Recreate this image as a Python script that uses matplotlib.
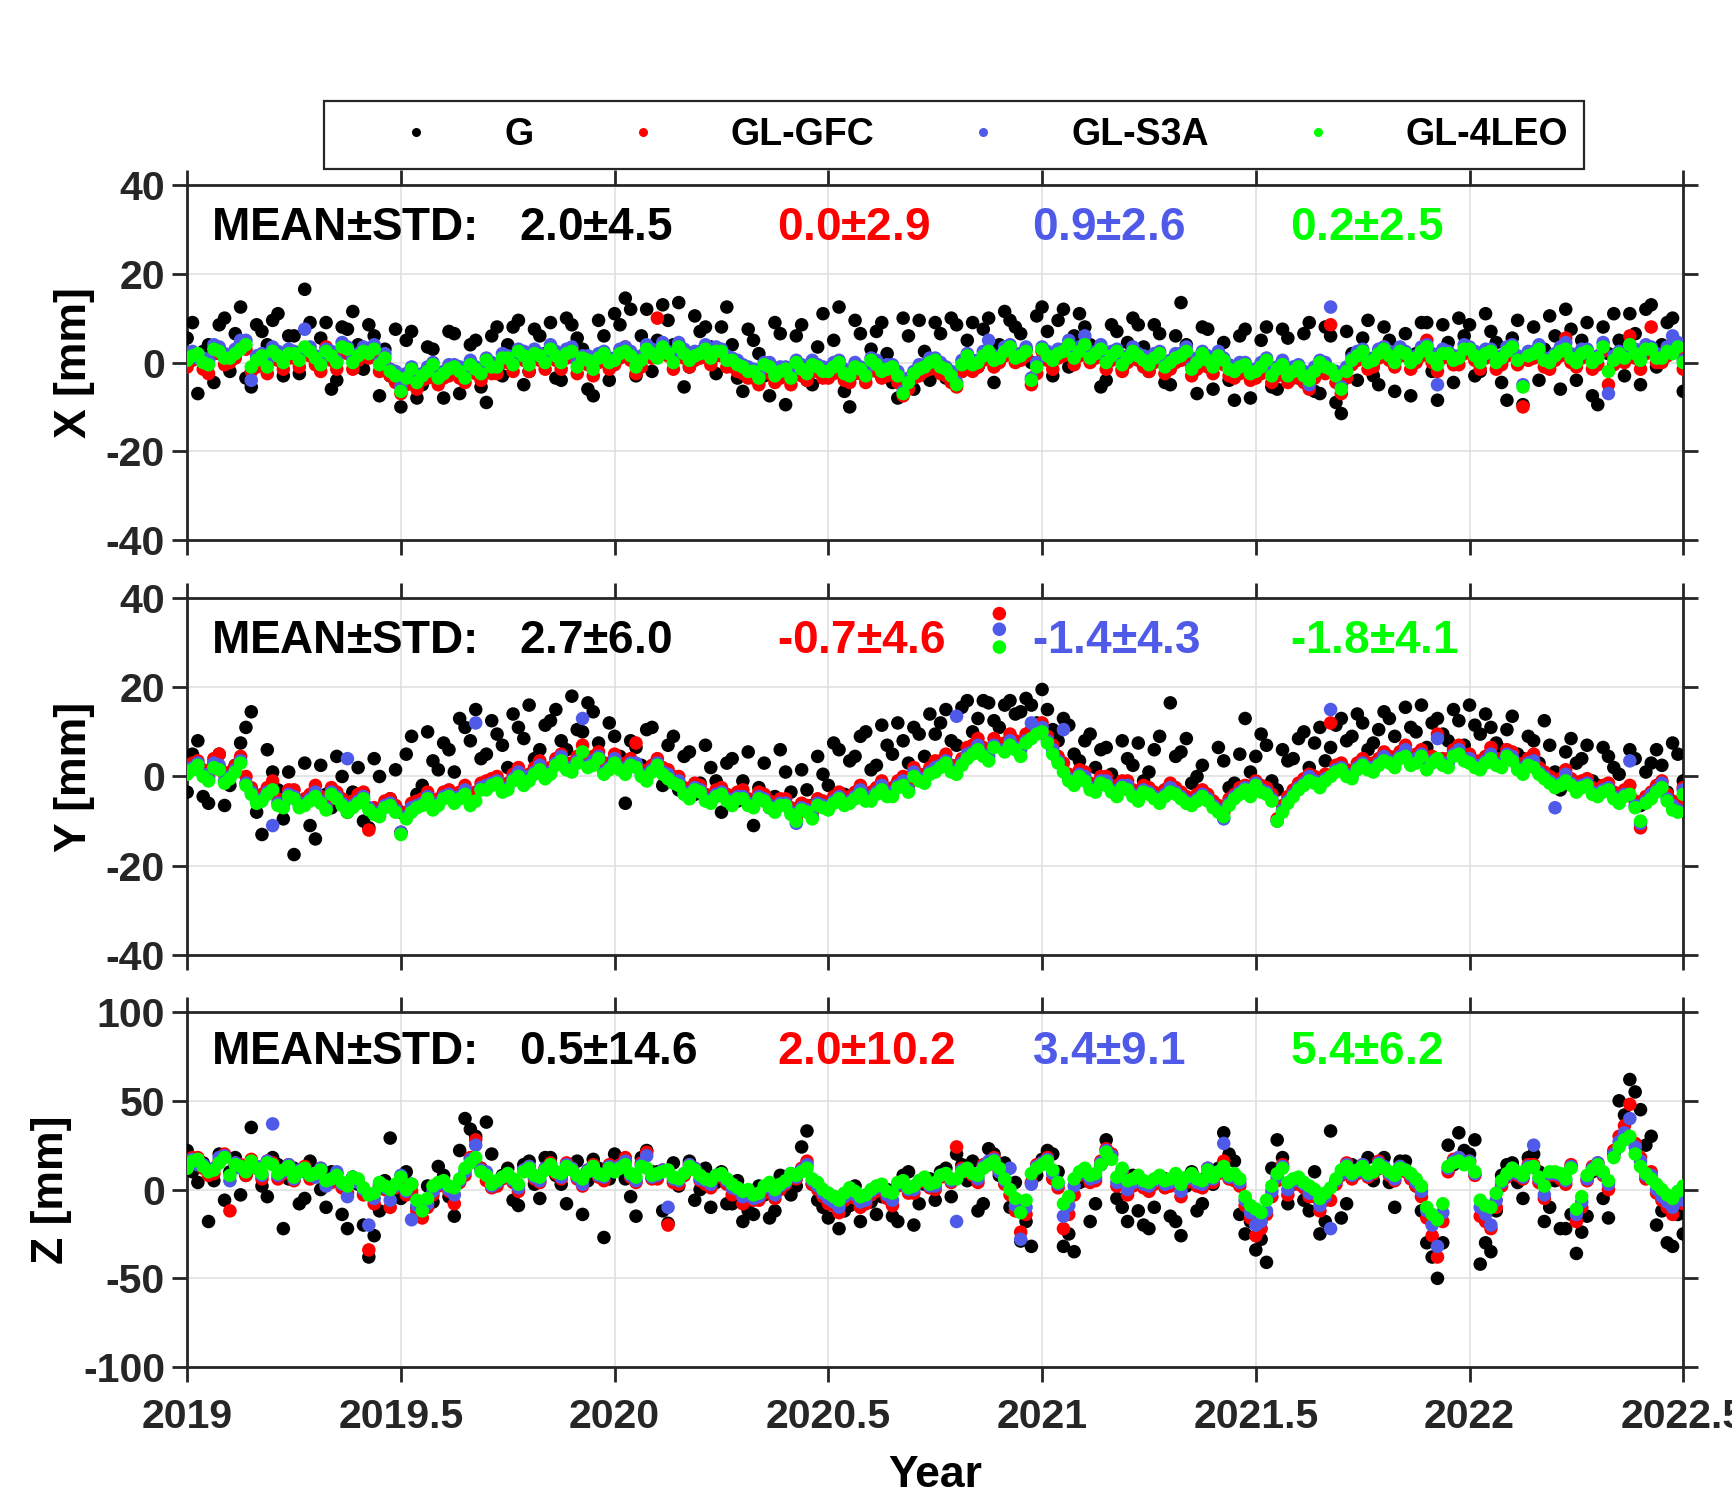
import numpy as np
import matplotlib
matplotlib.use("Agg")
import matplotlib.pyplot as plt
from matplotlib.lines import Line2D

plt.rcParams['font.family'] = ['Liberation Sans', 'DejaVu Sans']
plt.rcParams['font.weight'] = 'bold'
plt.rcParams['axes.unicode_minus'] = False
plt.rcParams['mathtext.fontset'] = 'custom'
plt.rcParams['mathtext.rm'] = 'Liberation Sans'

# ---------------- data ----------------
# main samples every 0.025 yr, extra samples half-way between them
years = 2019 + 0.025 * np.arange(141)
years_b = 2019.0125 + 0.025 * np.arange(140)

series_names = ["G", "GL-GFC", "GL-S3A", "GL-4LEO"]
series_colors = ["#000000", "#ff0000", "#4f5ae8", "#00ff00"]

# ---- X ----
G_X = [5.5, -7.0, 4.0, 8.5, -2.0, 12.5, -5.5, 7.0, 9.5, -3.0,
       6.0, 16.5, 1.0, 9.0, -4.0, 7.5, 4.0, 8.5, -7.5, -3.0,
       -10.0, 7.0, -5.0, 3.0, -8.0, 6.5, -2.0, 5.0, -9.0, 8.0,
       4.0, 9.5, -2.0, 6.0, 9.0, -4.0, 8.5, 3.0, -7.5, 6.0,
       11.0, 14.5, -3.0, 12.0, 5.0, 9.5, 13.5, -1.0, 7.0, 3.5,
       8.0, 4.0, -6.5, 5.0, -3.0, 9.0, -9.5, 6.0, -4.0, 3.5,
       -2.0, 12.5, -10.0, 6.5, 3.0, 9.0, -4.5, 10.0, -6.0, 2.5,
       9.0, -3.5, 8.5, 5.0, -1.0, 10.0, 4.0, 9.5, 6.5, 0.0,
       12.5, -3.0, 12.0, 6.0, 8.0, 2.5, -4.0, 7.0, 4.5, 8.5,
       -2.0, 6.5, -5.0, 13.5, -1.0, 8.0, -6.0, 4.5, -8.5, 7.5,
       -2.5, 8.0, -6.0, 5.5, -3.5, 9.0, -7.0, 6.0, -11.5, 2.0,
       5.5, -3.0, 8.0, -6.5, 6.5, 2.0, 9.0, -8.5, 4.5, 10.0,
       8.5, -2.0, 7.0, -4.5, 5.5, -9.5, 8.0, 3.0, 6.0, 12.0,
       -4.0, 9.0, -9.5, 2.0, 5.0, 11.0, -5.0, 13.0, 4.0, 10.0, -6.5]
G_X_b = [9.0, 2.5, -4.5, 10.0, 6.5, -3.5, 8.5, 4.0, 11.0, 6.0,
         -2.5, 9.0, 5.5, -6.0, 8.0, 11.5, -1.5, 6.0, 3.0, 7.5,
         5.0, -8.0, 3.5, -4.5, 7.0, -7.0, 4.0, -5.5, 6.0, -3.0,
         8.0, -5.0, 7.5, 2.0, -3.5, 10.0, 5.5, -6.0, 9.5, -4.0,
         8.5, 12.0, 6.0, -2.0, 13.0, 4.0, -5.5, 10.5, 8.0, -2.5,
         12.5, -3.5, 7.5, 2.0, -7.5, 6.5, -2.0, 8.5, -5.0, 11.0,
         5.0, -6.5, 9.5, -3.0, 7.0, 2.0, -8.0, 6.0, 9.5, -4.0,
         6.5, 10.0, -2.0, 9.0, 7.5, -4.5, 11.5, 8.0, 3.0, 10.5,
         7.0, 9.5, -1.0, 11.0, 4.0, -5.5, 8.5, -1.5, 10.0, 3.5,
         8.5, -4.5, 6.0, 4.0, -7.0, 7.5, 2.0, -4.0, 6.0, -8.0,
         5.0, -5.5, 7.5, -2.0, 6.5, -6.5, 8.0, -9.0, 7.0, -4.0,
         9.5, -5.0, 5.0, 3.0, -7.5, 9.0, -2.0, 8.5, -4.5, 6.0,
         -3.0, 11.0, 4.5, -8.5, 9.5, 2.0, -4.0, 10.5, -6.0, 7.5,
         5.0, -7.5, 8.0, 11.0, -3.0, 6.5, 12.0, -1.0, 9.0, 3.0]
GFC_X = [-1.0, 1.0, -2.5, 2.0, 0.0, 4.5, -2.0, 0.5, 3.0, -1.5,
         1.0, 2.5, -0.5, 3.5, -1.5, 2.0, 0.5, 1.0, -2.0, -3.0,
         -7.0, -3.0, -4.0, -1.5, -3.5, -2.0, -4.5, -2.5, -0.5, -2.5,
         0.0, 1.5, -2.0, 0.5, 2.5, -1.5, 3.0, 0.0, -3.0, 1.0,
         -0.5, 3.5, -2.5, 3.0, 10.0, 1.5, 4.0, -1.0, 1.0, -0.5,
         1.5, -1.0, -2.5, -3.5, -1.5, -4.5, -2.5, -1.0, -4.0, -2.0,
         -3.5, -1.0, -4.5, -2.5, -0.5, -3.5, -2.0, -7.5, -3.5, -2.0,
         -0.5, -3.0, -5.5, 0.5, -1.0, 2.0, 0.0, 3.0, 0.5, -5.0,
         2.5, -1.5, 1.5, -0.5, 4.0, 1.0, -1.5, 2.0, 0.0, 0.5,
         -2.0, 1.5, -1.5, 0.5, -3.0, 1.0, -2.5, -0.5, -3.5, -2.0,
         -3.5, -0.5, -3.0, -4.5, -2.0, -6.0, -1.0, 8.5, -7.0, -0.5,
         2.0, -1.0, 3.5, -1.0, 1.5, 0.0, 5.0, -2.0, 1.5, -0.5,
         2.5, -1.5, 2.0, -0.5, 3.0, -10.0, 1.0, -1.0, 0.5, 5.5,
         -1.0, 2.0, -0.5, -5.0, 1.5, 6.0, -1.5, 8.0, 0.0, 4.0, -1.5]
GFC_X_b = [0.5, -1.5, 2.0, -0.5, 1.0, 3.0, -1.0, -2.5, 0.5, 1.0,
           -1.0, 1.5, -2.0, 0.5, 2.5, -1.5, 1.5, 2.0, -0.5, -4.5,
           -5.0, -6.0, -3.5, -5.0, -3.0, -3.5, -2.0, -4.0, -2.5, 0.0,
           -2.0, 0.5, 1.0, -1.5, 0.5, 1.0, -2.5, -0.5, 0.0, -1.5,
           1.0, 0.5, -1.0, 1.0, 2.5, -1.5, 1.0, 0.5, 2.0, 1.5,
           -1.0, -2.0, -3.5, -5.0, -2.5, -3.5, -5.0, -3.0, -2.0, -3.5,
           -2.5, -4.0, -2.5, -4.5, -2.0, -3.0, -4.5, -6.0, -3.0, -1.5,
           -2.5, -4.5, -2.0, -2.0, 0.5, -1.0, 1.5, 0.0, 1.5, -2.5,
           0.5, 1.0, 3.0, 1.5, 0.0, 2.0, 0.5, -2.0, 1.5, -1.0,
           0.0, -2.5, 0.0, 1.5, -1.5, -1.0, 0.5, -3.0, -2.5, -4.0,
           -2.5, -4.5, -2.0, -3.5, -4.5, -3.5, -2.5, -4.5, -3.5, 0.5,
           -1.5, 1.0, 0.5, 1.5, -1.5, 1.5, 0.0, 1.0, -0.5, 2.0,
           0.5, 1.0, -1.5, 1.5, -0.5, 0.5, 2.0, -1.5, 1.5, 0.0,
           1.0, -1.5, 2.5, -0.5, 0.0, 1.0, 2.0, 0.0, 1.5, 2.5]
S3A_X = [2.0, 1.0, 0.5, 3.5, 1.5, 5.0, -4.0, 2.0, 3.5, 1.0,
         2.5, 7.5, 1.5, 3.0, 0.5, 3.5, 2.0, 2.5, 0.0, -1.5,
         -5.5, -1.0, -2.5, 0.0, -2.0, -0.5, -3.0, -1.0, 1.0, -0.5,
         1.5, 3.0, 0.0, 2.0, 4.0, 0.5, 3.5, 1.5, -1.0, 2.5,
         1.0, 3.5, -0.5, 4.0, 1.5, 2.5, 4.5, 1.0, 2.5, 1.5,
         3.0, 1.0, -0.5, -1.5, 0.0, -2.5, -1.0, 0.5, -2.0, -0.5,
         -1.5, 0.5, -2.5, -1.0, 1.0, -1.5, -0.5, -6.5, -2.0, -0.5,
         1.0, -1.0, -4.5, 2.0, 0.5, 5.0, 1.5, 4.0, 2.0, -3.5,
         3.5, 1.0, 3.0, 1.5, 6.0, 2.5, 0.5, 3.0, 1.5, 2.0,
         0.0, 2.5, 0.5, 2.0, -1.0, 2.5, -0.5, 1.0, -1.5, 0.0,
         -1.5, 1.0, -1.0, -2.5, -0.5, -5.0, 0.5, 12.5, -5.5, 1.0,
         3.0, 1.0, 3.5, 0.5, 2.5, 1.5, 4.0, -5.0, 2.5, 1.5,
         3.5, 0.5, 3.0, 1.5, 4.0, -5.0, 2.5, 1.0, 2.0, 4.5,
         0.5, 3.0, 1.5, -7.0, 2.5, 4.0, 1.0, 3.5, 1.5, 6.0, 0.5]
S3A_X_b = [2.5, 1.0, 4.0, 2.0, 3.0, 5.0, 1.5, 0.0, 2.5, 3.0,
           1.5, 3.5, 0.5, 2.5, 4.5, 1.0, 3.5, 4.0, 2.0, -2.0,
           -2.5, -3.5, -1.0, -2.5, -0.5, -1.0, 0.5, -1.5, 0.0, 2.0,
           0.5, 2.5, 3.0, 1.0, 2.5, 3.0, 0.0, 1.5, 2.0, 1.0,
           3.0, 2.5, 1.5, 3.0, 4.5, 1.0, 3.0, 2.5, 4.0, 3.5,
           1.5, 0.5, -1.0, -2.5, 0.0, -1.0, -2.5, -0.5, 0.5, -1.0,
           0.0, -1.5, 0.0, -2.0, 0.5, -0.5, -2.0, -3.5, -0.5, 1.0,
           0.0, -2.0, 0.5, 0.5, 2.5, 1.5, 3.5, 2.0, 3.5, 0.0,
           2.5, 3.0, 5.0, 3.5, 2.0, 4.0, 2.5, 0.5, 3.5, 1.5,
           2.0, 0.0, 2.0, 3.5, 1.0, 1.5, 2.5, -0.5, 0.0, -1.5,
           0.0, -2.0, 0.5, -1.0, -2.0, -1.0, 0.0, -2.0, -1.0, 2.5,
           1.0, 3.0, 2.5, 3.5, 1.0, 3.5, 2.0, 3.0, 1.5, 4.0,
           2.5, 3.0, 1.0, 3.5, 1.5, 2.5, 4.0, 1.0, 3.5, 2.0,
           3.0, 1.0, 4.5, 1.5, 2.0, 3.0, 4.0, 2.0, 3.5, 4.5]
LEO_X = [0.5, 2.0, -0.5, 2.5, 1.0, 3.0, -1.0, 1.5, 2.5, 0.0,
         2.0, 3.5, 1.0, 2.5, 0.0, 3.0, 1.5, 2.0, -0.5, -2.0,
         -6.5, -1.5, -3.0, -0.5, -2.5, -1.0, -3.5, -1.5, 0.5, -1.0,
         1.0, 2.5, -0.5, 1.5, 3.0, 0.0, 2.5, 1.0, -1.5, 2.0,
         0.5, 2.5, -1.0, 3.0, 1.0, 2.0, 3.5, 0.5, 2.0, 1.0,
         2.5, 0.5, -1.0, -2.0, -0.5, -3.0, -1.5, 0.0, -2.5, -1.0,
         -2.0, 0.0, -3.0, -1.5, 0.5, -2.0, -1.0, -7.0, -2.5, -1.0,
         0.5, -1.5, -5.0, 1.5, 0.0, 2.5, 1.0, 3.5, 1.5, -4.0,
         3.0, 0.5, 2.5, 1.0, 4.0, 2.0, 0.0, 2.5, 1.0, 1.5,
         -0.5, 2.0, 0.0, 1.5, -1.5, 2.0, -1.0, 0.5, -2.0, -0.5,
         -2.0, 0.5, -1.5, -3.0, -1.0, -4.0, 0.0, -1.5, -6.0, 0.5,
         2.5, 0.5, 3.0, 0.0, 2.0, 1.0, 3.5, -0.5, 2.0, 1.0,
         3.0, 0.0, 2.5, 1.0, 3.5, -5.5, 2.0, 0.5, 1.5, 3.0,
         0.0, 2.5, 1.0, -2.0, 2.0, 4.0, 0.5, 3.0, 1.0, 2.0, 0.0]
LEO_X_b = [1.5, 0.0, 3.0, 1.0, 2.0, 4.0, 0.5, -1.0, 1.5, 2.0,
           0.5, 2.5, -0.5, 1.5, 3.5, 0.0, 2.5, 3.0, 1.0, -3.0,
           -3.5, -4.5, -2.0, -3.5, -1.5, -2.0, -0.5, -2.5, -1.0, 1.0,
           -0.5, 1.5, 2.0, 0.0, 1.5, 2.0, -1.0, 0.5, 1.0, 0.0,
           2.0, 1.5, 0.5, 2.0, 3.5, 0.0, 2.0, 1.5, 3.0, 2.5,
           0.5, -0.5, -2.0, -3.5, -1.0, -2.0, -3.5, -1.5, -0.5, -2.0,
           -1.0, -2.5, -1.0, -3.0, -0.5, -1.5, -3.0, -4.5, -1.5, 0.0,
           -1.0, -3.0, -0.5, -0.5, 1.5, 0.5, 2.5, 1.0, 2.5, -1.0,
           1.5, 2.0, 4.0, 2.5, 1.0, 3.0, 1.5, -0.5, 2.5, 0.5,
           1.0, -1.0, 1.0, 2.5, 0.0, 0.5, 1.5, -1.5, -1.0, -2.5,
           -1.0, -3.0, -0.5, -2.0, -3.0, -2.0, -1.0, -3.0, -2.0, 1.5,
           0.0, 2.0, 1.5, 2.5, 0.0, 2.5, 1.0, 2.0, 0.5, 3.0,
           1.5, 2.0, 0.0, 2.5, 0.5, 1.5, 3.0, 0.0, 2.5, 1.0,
           2.0, 0.0, 3.5, 0.5, 1.0, 2.0, 3.0, 1.0, 2.5, 3.5]

# ---- Y ----
G_Y = [-3.5, 8.0, -6.0, 5.0, -2.0, 7.5, 14.5, -13.0, 1.0, -9.5,
       -17.5, 3.0, -14.0, -4.0, 4.5, -8.0, 2.0, -11.5, 0.0, -5.0,
       -8.0, 9.0, -2.0, 3.5, 7.5, 1.0, 11.0, 15.0, 5.0, 9.5,
       2.0, 11.0, 16.0, 6.0, 12.5, 8.0, 18.0, 10.0, 14.5, 3.0,
       9.0, -6.0, 6.5, 10.5, 2.0, 7.0, -3.0, 5.5, -1.5, 2.0,
       -8.0, 4.0, -1.0, -11.0, 3.0, -4.5, 1.0, -9.0, -3.0, 4.5,
       -2.0, 6.0, 3.5, 9.0, 1.5, 11.5, 5.0, 8.0, 11.0, 4.5,
       9.5, 15.0, 7.0, 17.0, 13.0, 16.5, 11.0, 17.0, 14.5, 16.0,
       19.5, 10.5, 13.0, 5.0, 8.0, 2.0, 6.5, -3.5, 4.0, 7.5,
       1.0, 9.0, 16.5, 5.5, -1.5, 2.5, -6.0, 3.5, -1.5, 13.0,
       4.5, 7.0, -3.0, 3.5, 8.5, 2.0, 11.0, 6.5, 13.0, 9.0,
       12.0, 7.5, 14.5, 9.0, 15.5, 10.0, 6.5, 13.0, 8.0, 12.5,
       16.0, 9.5, 11.0, 6.0, 13.5, 4.0, 8.0, 12.5, 1.0, 5.5,
       3.0, 7.0, -2.0, 4.5, 0.5, 6.0, -6.5, 3.0, 2.5, 7.5, -1.0]
G_Y_b = [5.0, -4.5, 3.0, -6.5, 2.5, 11.0, -8.0, 6.0, -3.0, 1.0,
         -6.0, -11.0, 2.5, -7.0, 0.0, -3.5, -10.0, 4.0, -6.5, 1.5,
         5.0, -4.0, 10.0, 1.5, 6.0, 13.0, 8.0, 4.0, 12.5, 7.0,
         14.0, 8.5, 4.0, 11.5, 15.0, 6.0, 10.5, 16.5, 7.5, 12.0,
         4.5, 8.0, 2.5, 11.0, -2.0, 9.0, 4.5, -4.0, 7.0, -1.0,
         3.0, -5.5, 5.5, -2.5, -7.0, 6.0, -3.5, 1.5, -6.5, 0.5,
         7.5, -4.0, 4.5, 10.0, 2.5, 7.0, 12.0, 3.0, 9.5, 14.0,
         12.0, 8.0, 15.5, 10.0, 17.0, 12.5, 16.0, 14.0, 17.5, 12.0,
         15.0, 8.0, 11.5, 3.5, 9.5, 6.0, 0.5, 8.0, 2.5, -1.0,
         6.0, -3.0, 4.5, 8.5, 0.0, -5.0, 6.5, -2.5, 5.0, 1.0,
         9.5, -1.0, 6.0, 4.0, 10.0, 7.5, 3.5, 11.5, 8.0, 14.0,
         6.0, 10.5, 13.0, 5.5, 11.0, 16.0, 12.0, 9.5, 15.0, 7.0,
         11.5, 14.0, 7.5, 10.5, 5.0, 9.0, 3.0, 7.0, -3.0, 8.5,
         4.0, -1.0, 6.5, 2.0, -4.0, 4.0, 1.0, 6.0, -3.5, 5.0]
GFC_Y = [2.0, 3.5, 0.0, 5.0, 1.0, 4.5, -2.5, -4.0, -1.0, -5.5,
         -3.0, -5.0, -2.0, -6.5, -3.5, -6.0, -4.0, -12.0, -7.5, -5.0,
         -12.5, -6.0, -5.0, -6.0, -3.5, -4.0, -2.0, -3.5, -1.0, 0.0,
         -1.5, 2.0, 0.5, 3.5, 2.0, 5.0, 3.0, 7.0, 4.5, 2.0,
         5.0, 2.5, 7.5, 0.5, 4.0, 1.5, 0.0, -3.5, -2.0, -4.5,
         -2.5, -5.0, -3.0, -5.5, -4.0, -6.5, -5.0, -9.5, -6.5, -5.0,
         -6.0, -3.5, -4.5, -2.0, -3.5, -1.0, -2.5, 0.0, 2.0, 0.5,
         3.5, 5.0, 2.5, 6.5, 8.5, 6.0, 36.5, 9.5, 7.5, 10.5,
         12.0, 7.0, 3.0, -0.5, 1.0, -2.0, 0.0, -3.0, -1.0, -4.0,
         -2.5, -4.5, -1.5, -3.5, -5.0, -3.0, -5.5, -8.0, -4.0, -2.0,
         -1.0, -2.5, -9.5, -4.5, -1.5, 0.5, -1.0, 12.0, 3.0, 1.0,
         4.0, 3.0, 5.5, 4.0, 7.0, 5.0, 3.0, 9.5, 4.0, 7.0,
         5.0, 3.5, 6.5, 4.0, 5.5, 2.5, 5.0, 1.0, -1.0, 1.5,
         -1.5, -0.5, -3.0, -1.5, -4.5, -2.0, -11.5, -3.5, -1.0, -5.5, -2.5]
GFC_Y_b = [3.0, 1.5, 4.0, 0.5, 2.5, 0.0, -4.5, -2.5, -5.0, -3.0,
           -5.5, -4.0, -4.5, -2.5, -5.0, -5.5, -3.5, -7.0, -5.5, -6.5,
           -8.0, -5.5, -3.5, -5.0, -3.0, -3.5, -5.0, -1.5, -0.5, -2.0,
           0.5, -0.5, 2.0, 1.0, 4.0, 3.0, 4.5, 3.5, 5.5, 3.0,
           3.0, 4.0, 1.5, 2.5, 2.0, 0.0, -2.5, -1.5, -4.0, -3.0,
           -4.0, -3.5, -5.0, -3.5, -5.5, -5.0, -7.0, -6.0, -8.0, -5.5,
           -4.5, -5.0, -3.5, -4.0, -2.5, -3.0, -1.0, -2.0, 0.5, 2.0,
           3.5, 2.5, 4.0, 7.0, 6.5, 8.5, 7.5, 8.0, 9.5, 11.5,
           9.0, 4.5, 0.5, 1.5, -1.5, 0.0, -2.0, -1.0, -3.0, -2.0,
           -3.5, -3.0, -2.5, -4.5, -4.0, -4.0, -6.5, -5.0, -2.5, -3.0,
           -2.0, -4.0, -6.5, -3.0, -0.5, 0.0, 0.5, 2.5, 1.5, 3.0,
           3.0, 4.0, 4.5, 5.5, 4.0, 6.0, 4.5, 4.0, 6.0, 5.0,
           3.5, 4.5, 4.0, 6.0, 3.0, 4.0, 2.0, 0.0, -0.5, -0.5,
           -1.0, -2.5, -2.0, -3.5, -3.0, -5.5, -4.5, -2.0, -4.0, -6.5]
S3A_Y = [1.0, 3.0, -0.5, 2.5, 0.0, 3.5, -3.5, -5.0, -11.0, -6.5,
         -4.5, -6.0, -3.5, -7.0, -4.5, 4.0, -5.5, -7.0, -8.5, -6.0,
         -12.5, -7.0, -6.0, -7.0, -4.5, -5.0, -3.0, 12.0, -2.0, -1.0,
         -2.5, 1.0, 0.0, 2.5, 1.0, 4.5, 2.0, 13.0, 3.5, 1.0,
         4.0, 1.5, 3.0, -0.5, 3.0, 0.5, -1.0, -4.5, -3.0, -5.5,
         -3.5, -6.0, -4.5, -6.5, -5.0, -7.5, -6.0, -10.5, -7.5, -6.0,
         -7.0, -4.5, -5.5, -3.0, -4.5, -2.0, -3.5, -1.0, 1.0, -0.5,
         2.0, 3.5, 13.5, 5.0, 7.0, 4.5, 33.0, 8.0, 6.0, 12.0,
         11.0, 6.0, 10.5, -1.5, 0.0, -3.0, -1.0, -4.0, -2.0, -5.0,
         -3.5, -5.5, -2.5, -4.5, -6.0, -4.0, -6.5, -9.5, -4.5, -2.5,
         -1.5, -3.5, -10.0, -5.5, -2.5, 0.0, -2.0, 15.0, 2.0, 0.0,
         3.0, 2.0, 4.5, 3.0, 6.0, 4.0, 2.5, 8.5, 3.0, 6.0,
         4.0, 2.5, 5.0, 3.0, 4.5, 1.5, 3.5, 0.0, -7.0, 0.5,
         -2.5, -1.5, -4.0, -2.5, -5.0, 3.5, -10.5, -4.0, -1.5, -6.5, -3.0]
S3A_Y_b = [2.0, 0.5, 3.0, -1.0, 1.5, -1.5, -5.5, -3.5, -6.0, -4.0,
           -6.5, -5.0, -5.5, -3.5, -6.0, -6.5, -4.5, -8.0, -6.5, -7.5,
           -9.0, -6.5, -4.5, -6.0, -4.0, -4.5, -6.0, -2.5, -1.5, -3.0,
           -0.5, -1.5, 1.0, 0.0, 3.0, 2.0, 3.5, 2.5, 4.5, 2.0,
           2.0, 3.0, 0.5, 1.5, 1.0, -1.0, -3.5, -2.5, -5.0, -4.0,
           -5.0, -4.5, -6.0, -4.5, -6.5, -6.0, -8.0, -7.0, -9.0, -6.5,
           -5.5, -6.0, -4.5, -5.0, -3.5, -4.0, -2.0, -3.0, -0.5, 1.0,
           2.5, 1.5, 3.0, 5.5, 5.0, 7.0, 6.0, 6.5, 8.0, 10.0,
           8.0, 3.5, -0.5, 0.5, -2.5, -1.0, -3.0, -2.0, -4.0, -3.0,
           -4.5, -4.0, -3.5, -5.5, -5.0, -5.0, -7.5, -6.0, -3.5, -4.0,
           -3.0, -5.0, -7.5, -4.0, -1.5, -1.0, -0.5, 1.5, 0.5, 2.0,
           2.0, 3.0, 3.5, 4.5, 3.0, 5.0, 3.5, 3.0, 5.0, 4.0,
           2.5, 3.5, 3.0, 5.0, 2.0, 3.0, 1.0, -1.0, -1.5, -1.5,
           -2.0, -3.5, -3.0, -4.5, -4.0, -6.5, -5.5, -3.0, -5.0, -7.5]
LEO_Y = [0.5, 2.5, -1.0, 1.5, -0.5, 3.0, -4.0, -5.5, -3.0, -7.0,
         -5.0, -6.5, -4.5, -7.5, -5.0, -8.0, -6.0, -7.5, -9.0, -6.5,
         -13.0, -8.0, -6.5, -7.5, -5.0, -6.0, -4.0, -5.5, -3.0, -1.5,
         -3.0, 0.0, -1.0, 1.5, 0.5, 3.5, 1.0, 5.5, 2.5, 0.5,
         3.0, 0.5, 2.0, -1.0, 2.5, -0.5, -2.0, -5.0, -3.5, -6.0,
         -4.0, -6.5, -5.0, -7.0, -5.5, -8.0, -6.5, -10.0, -8.0, -6.5,
         -7.5, -5.0, -6.0, -4.0, -5.5, -3.0, -4.5, -2.0, 0.0, -1.5,
         1.0, 3.0, 0.5, 4.0, 6.0, 3.5, 29.0, 7.0, 4.5, 8.5,
         10.0, 5.0, 1.0, -2.0, -1.0, -3.5, -2.0, -4.5, -3.0, -5.5,
         -4.0, -6.0, -3.5, -5.0, -6.5, -4.5, -7.0, -9.0, -5.0, -3.0,
         -2.0, -4.0, -10.0, -6.0, -3.0, -1.0, -2.5, 0.0, 1.5, -0.5,
         2.5, 1.0, 3.5, 2.0, 4.5, 3.0, 1.5, 4.0, 2.0, 5.0,
         3.0, 1.5, 4.0, 2.0, 3.5, 0.5, 2.0, -0.5, -2.5, -1.0,
         -3.5, -2.0, -4.5, -3.0, -6.0, -4.0, -10.0, -5.0, -2.5, -7.5, -4.0]
LEO_Y_b = [1.5, 0.0, 2.0, -1.5, 1.0, -2.0, -6.0, -4.0, -6.5, -4.5,
           -7.0, -5.5, -6.0, -4.0, -6.5, -7.0, -5.0, -8.5, -7.0, -8.0,
           -9.5, -7.0, -5.0, -6.5, -4.5, -5.0, -6.5, -3.0, -2.0, -3.5,
           -1.0, -2.0, 0.5, -0.5, 2.5, 1.5, 3.0, 2.0, 4.0, 1.5,
           1.5, 2.5, 0.0, 1.0, 0.5, -1.5, -4.0, -3.0, -5.5, -4.5,
           -5.5, -5.0, -6.5, -5.0, -7.0, -6.5, -8.5, -7.5, -9.5, -7.0,
           -6.0, -6.5, -5.0, -5.5, -4.0, -4.5, -2.5, -3.5, -1.0, 0.5,
           2.0, 1.0, 2.5, 5.0, 4.5, 6.5, 5.5, 6.0, 7.5, 9.5,
           7.5, 3.0, -1.0, 0.0, -3.0, -1.5, -3.5, -2.5, -4.5, -3.5,
           -5.0, -4.5, -4.0, -6.0, -5.5, -5.5, -8.0, -6.5, -4.0, -4.5,
           -3.5, -5.5, -8.0, -4.5, -2.0, -1.5, -1.0, 1.0, 0.0, 1.5,
           1.5, 2.5, 3.0, 4.0, 2.5, 4.5, 3.0, 2.5, 4.5, 3.5,
           2.0, 3.0, 2.5, 4.5, 1.5, 2.5, 0.5, -1.5, -2.0, -2.0,
           -2.5, -4.0, -3.5, -5.0, -4.5, -7.0, -6.0, -3.5, -5.5, -8.0]

# ---- Z ----
G_Z = [22, 4, -18, 20, 10, -3, 35, 2, 18, -22,
       12, -5, 8, -10, 6, -22, 3, -38, -12, 29,
       -5, 3, -12, -7, 8, -15, 40, 30, 38, 4,
       12, -9, 16, -5, 18, 3, 14, -14, 17, -27,
       20, 6, -15, 22, 10, -19, 2, 16, 0, -10,
       10, -8, -18, -14, -3, -12, 6, 2, 33, -6,
       -16, -22, -9, -18, -7, -4, -15, 8, -20, 3,
       -6, 12, 20, 5, -12, 23, 8, -10, -29, -32,
       17, 20, -32, -35, 5, -8, 28, -5, -18, -12,
       -22, 4, -15, -26, 10, -8, 3, 32, 16, -25,
       -34, -41, 28, -8, 4, -12, -25, 33, -16, 14,
       12, 5, 18, -10, 16, 2, -30, -50, 25, 32,
       20, -42, -35, 8, 15, -5, 20, -18, 5, -22,
       -36, -15, 12, -16, 50, 62, 45, 30, -12, -32, -25]
G_Z_b = [10, 15, 5, -6, 18, 8, 12, -4, 14, 6,
         -8, 16, 0, 10, -14, 7, -20, -26, 5, -3,
         10, -10, 2, 13, -4, 22, 34, 12, 20, 8,
         -6, 14, 3, 18, 8, -8, 16, 5, 12, 6,
         14, -4, 18, 10, -12, 15, 8, -6, 12, 4,
         -8, 5, -12, 2, -16, 8, -3, 24, 3, -10,
         -4, -12, 2, -6, -14, 0, -18, 10, -8, 6,
         10, -4, 14, 16, -8, 20, 15, 4, -18, 8,
         22, 10, -25, 4, -18, 14, 20, -10, 8, -20,
         -10, 6, -18, 2, -12, 8, 12, 20, -14, -18,
         -28, 12, 18, 3, -6, 10, -18, 5, -8, 10,
         18, 12, 4, 16, 8, -12, -38, -30, 14, 22,
         28, -30, -12, 14, 4, 18, 10, -10, -22, -14,
         -24, 10, -5, 20, 42, 55, 25, -20, -30, -14]
GFC_Z = [14, 18, 8, 16, -12, 14, 17, 6, 15, 9,
         5, 13, 8, 3, 9, -2, 5, -34, 2, -10,
         6, -1, -16, -3, 4, -8, 8, 28, 5, 2,
         7, -1, 13, 4, 15, 6, 12, 2, 14, 5,
         11, 18, 4, 21, 6, -20, 3, 14, 5, 1,
         7, -3, -8, -6, -2, -5, 3, 6, 16, 0,
         -8, -13, -4, -10, -3, 1, -9, 3, -2, 5,
         0, 8, 24, 10, 4, 14, 10, -3, -24, 4,
         15, 6, -22, -3, 10, 5, 23, 2, -3, 4,
         -1, 5, 2, -4, 7, 1, 4, 16, 5, -9,
         -26, -14, 5, -3, 3, -4, -12, -6, 8, 6,
         14, 9, 12, 5, 10, 2, -16, -38, 10, 18,
         16, -15, -22, 2, 11, 6, 14, -5, 8, 3,
         -18, 5, 15, 0, 30, 48, 18, 10, -6, -14, -8]
GFC_Z_b = [18, 12, 9, 20, 15, 8, 13, 16, 6, 14,
           11, 6, 12, 4, 1, 5, -3, -8, 0, 1,
           -3, -12, -10, 2, -1, 4, 18, 12, 1, 6,
           4, 11, 6, 12, 9, 15, 6, 11, 7, 14,
           14, 7, 15, 6, 11, 4, 8, 12, 3, 7,
           3, -2, -4, -6, 2, 0, 8, 12, 3, -4,
           -9, -6, -5, -8, -1, -5, 2, -2, 4, 1,
           7, 4, 12, 8, 14, 18, 3, -12, -14, 14,
           18, 1, -14, 8, 4, 16, 20, 10, 2, 1,
           3, 1, 7, 4, 2, 12, 9, 6, 2, -16,
           -22, -4, 14, 4, 1, -4, -6, 3, 15, 9,
           7, 16, 8, 13, 6, -4, -26, -18, 17, 15,
           8, -18, -10, 7, 8, 14, 4, 8, 6, 14,
           -10, 13, 8, 22, 36, 26, 6, -2, -10, -6]
S3A_Z = [16, 14, 11, 18, 5, 12, 15, 8, 37, 10,
         6, 10, 7, 2, 10, -4, 4, -20, 3, -6,
         8, -17, -9, -1, 4, -3, 10, 25, 10, 4,
         8, 1, 13, 5, 14, 7, 12, 3, 13, 7,
         12, 16, 5, 19, 8, -10, 5, 14, 6, 3,
         8, 1, -4, -5, 1, -3, 4, 7, 14, 2,
         -5, -10, -1, -7, -1, 2, -6, 4, 0, 6,
         2, 9, -18, 11, 6, 16, 10, 12, -28, 3,
         15, 9, -15, 2, 11, 7, 22, 4, 0, 6,
         2, 7, 4, -1, 8, 3, 6, 26, 7, -6,
         -20, -12, 7, 0, 5, -2, -9, -22, 9, 8,
         14, 10, 13, 6, 11, 4, -12, -32, 12, 18,
         16, -10, -20, 4, 12, 7, 25, -3, 9, 5,
         -14, 6, 15, 3, 27, 40, 16, 8, -4, -10, -6]
S3A_Z_b = [17, 14, 12, 19, 15, 11, 13, 16, 8, 14,
           11, 8, 12, 6, 3, 7, 0, -5, 1, 2,
           -1, -9, -8, 3, 0, 5, 17, 11, 2, 7,
           5, 11, 7, 12, 10, 14, 7, 11, 8, 13,
           13, 8, 14, 7, 11, 6, 9, 12, 5, 8,
           5, 0, -2, -4, 3, 2, 9, 11, 5, -2,
           -7, -4, -3, -6, 1, -3, 3, 0, 5, 2,
           8, 5, 11, 9, 13, 17, 5, -9, -10, 13,
           17, 3, -9, 9, 6, 15, 19, 11, 4, 3,
           5, 3, 8, 6, 4, 12, 10, 7, 4, -13,
           -18, -1, 13, 5, 3, -2, -4, 5, 14, 10,
           8, 15, 9, 13, 8, -1, -20, -13, 16, 15,
           9, -14, -6, 8, 9, 13, 6, 9, 8, 13,
           -7, 12, 9, 20, 32, 24, 8, 0, -7, -4]
LEO_Z = [12, 17, 10, 15, 8, 13, 16, 9, 14, 11,
         7, 12, 9, 5, 8, 2, 6, -3, 4, 0,
         7, 3, -12, 2, 5, 1, 12, 18, 8, 5,
         9, 3, 12, 7, 14, 9, 11, 6, 13, 8,
         10, 14, 7, 12, 9, 11, 6, 13, 8, 5,
         9, 3, -1, -3, 2, 0, 5, 8, 12, 4,
         -2, -6, 1, -4, 0, 3, -2, 5, 2, 7,
         4, 9, 6, 12, 8, 14, 12, 0, -13, 9,
         14, 11, -8, 6, 12, 9, 21, 7, 5, 8,
         4, 8, 6, 3, 9, 5, 7, 13, 9, -4,
         -11, -6, 9, 4, 7, 2, -5, 1, 11, 9,
         13, 10, 12, 8, 11, 6, -10, -17, 13, 16,
         15, -6, -10, 5, 12, 8, 13, 2, 10, 6,
         -11, 8, 14, 5, 24, 30, 13, 6, 0, -5, 2]
LEO_Z_b = [16, 13, 11, 18, 14, 10, 12, 15, 9, 13,
           10, 8, 11, 6, 4, 7, 1, -2, 2, 3,
           0, -6, -5, 4, 2, 6, 15, 10, 3, 7,
           6, 10, 8, 11, 10, 13, 8, 10, 9, 12,
           12, 9, 13, 8, 10, 7, 9, 11, 6, 8,
           6, 1, 0, -2, 4, 3, 9, 10, 6, 0,
           -4, -2, -1, -3, 2, -1, 4, 1, 5, 3,
           8, 6, 10, 9, 12, 16, 6, -5, -6, 12,
           16, 4, -4, 10, 8, 14, 17, 12, 6, 5,
           6, 5, 9, 7, 6, 11, 10, 8, 6, -9,
           -13, 2, 12, 6, 4, 0, -2, 6, 13, 11,
           9, 14, 10, 12, 9, 2, -14, -8, 15, 14,
           10, -9, -2, 9, 10, 12, 7, 10, 9, 12,
           -4, 11, 10, 18, 28, 20, 9, 3, -3, -1]

# (label, [(times, values, colour index)...], ylim, yticks)
panel_data = [
    ("X [mm]", [(years, G_X, 0), (years_b, G_X_b, 0),
                (years, GFC_X, 1), (years_b, GFC_X_b, 1),
                (years, S3A_X, 2), (years_b, S3A_X_b, 2),
                (years, LEO_X, 3), (years_b, LEO_X_b, 3)], (-40, 40), [-40, -20, 0, 20, 40]),
    ("Y [mm]", [(years, G_Y, 0), (years_b, G_Y_b, 0),
                (years, GFC_Y, 1), (years_b, GFC_Y_b, 1),
                (years, S3A_Y, 2), (years_b, S3A_Y_b, 2),
                (years, LEO_Y, 3), (years_b, LEO_Y_b, 3)], (-40, 40), [-40, -20, 0, 20, 40]),
    ("Z [mm]", [(years, G_Z, 0), (years_b, G_Z_b, 0),
                (years, GFC_Z, 1), (years_b, GFC_Z_b, 1),
                (years, S3A_Z, 2), (years_b, S3A_Z_b, 2),
                (years, LEO_Z, 3), (years_b, LEO_Z_b, 3)], (-100, 100), [-100, -50, 0, 50, 100]),
]
stats_text = [
    ["2.0$\\pm$4.5", "0.0$\\pm$2.9", "0.9$\\pm$2.6", "0.2$\\pm$2.5"],
    ["2.7$\\pm$6.0", "-0.7$\\pm$4.6", "-1.4$\\pm$4.3", "-1.8$\\pm$4.1"],
    ["0.5$\\pm$14.6", "2.0$\\pm$10.2", "3.4$\\pm$9.1", "5.4$\\pm$6.2"],
]
xticks = [2019, 2019.5, 2020, 2020.5, 2021, 2021.5, 2022, 2022.5]
xtick_labels = ["2019", "2019.5", "2020", "2020.5", "2021", "2021.5", "2022", "2022.5"]

# ---------------- figure ----------------
fig = plt.figure(figsize=(17.33, 14.98), dpi=100)
spine_c = "#262626"
positions = [[0.108, 0.6395, 0.8633, 0.237],
             [0.108, 0.3625, 0.8633, 0.2383],
             [0.108, 0.0874, 0.8633, 0.237]]
text_x = [0.222, 0.394, 0.565, 0.737]
text_y = [0.880, 0.880, 0.888]

for k, (ylab, sers, ylim, yt) in enumerate(panel_data):
    ax = fig.add_axes(positions[k])
    for tt, vals, ci in sers:
        ax.scatter(tt, vals, s=95, c=series_colors[ci], edgecolors='none', zorder=3 + ci)
    ax.set_xlim(2019, 2022.5)
    ax.set_ylim(*ylim)
    ax.set_yticks(yt)
    ax.set_xticks(xticks)
    if k == 2:
        ax.set_xticklabels(xtick_labels)
        ax.set_xlabel("Year", fontsize=32, fontweight='bold', labelpad=14)
    else:
        ax.set_xticklabels([])
    ax.set_ylabel(ylab, fontsize=32, fontweight='bold', labelpad=8)
    ax.grid(True, color="#dedede", linewidth=1.1, zorder=0)
    ax.set_axisbelow(True)
    for sp in ax.spines.values():
        sp.set_color(spine_c)
        sp.set_linewidth(2.0)
    ax.tick_params(axis='both', which='major', direction='out', length=11, width=2.0,
                   color=spine_c, labelsize=29.5, top=True, right=True,
                   labelcolor="#262626")
    ax.tick_params(axis='x', pad=11)
    ax.tick_params(axis='y', pad=5)
    for lab in ax.get_xticklabels() + ax.get_yticklabels():
        lab.set_fontweight('bold')
    ax.text(0.016, text_y[k], "MEAN$\\pm$STD:", transform=ax.transAxes, fontsize=33,
            fontweight='bold', color='black', va='center', ha='left', zorder=10)
    for j in range(4):
        ax.text(text_x[j], text_y[k], stats_text[k][j], transform=ax.transAxes,
                fontsize=33, fontweight='bold', color=series_colors[j],
                va='center', ha='left', zorder=10)

handles = [Line2D([0], [0], marker='o', linestyle='none', markersize=6.5,
                  markerfacecolor=c, markeredgecolor='none') for c in series_colors]
leg = fig.legend(handles, series_names, loc='center', bbox_to_anchor=(0.5505, 0.9099),
                 ncol=4, frameon=True, fancybox=False, shadow=False, framealpha=1,
                 edgecolor='#262626', borderpad=0.42, handlelength=4.1,
                 handletextpad=0.3, columnspacing=0.85, prop={'weight': 'bold', 'size': 27})
leg.get_frame().set_linewidth(1.6)

fig.savefig("out.png", dpi=100)
